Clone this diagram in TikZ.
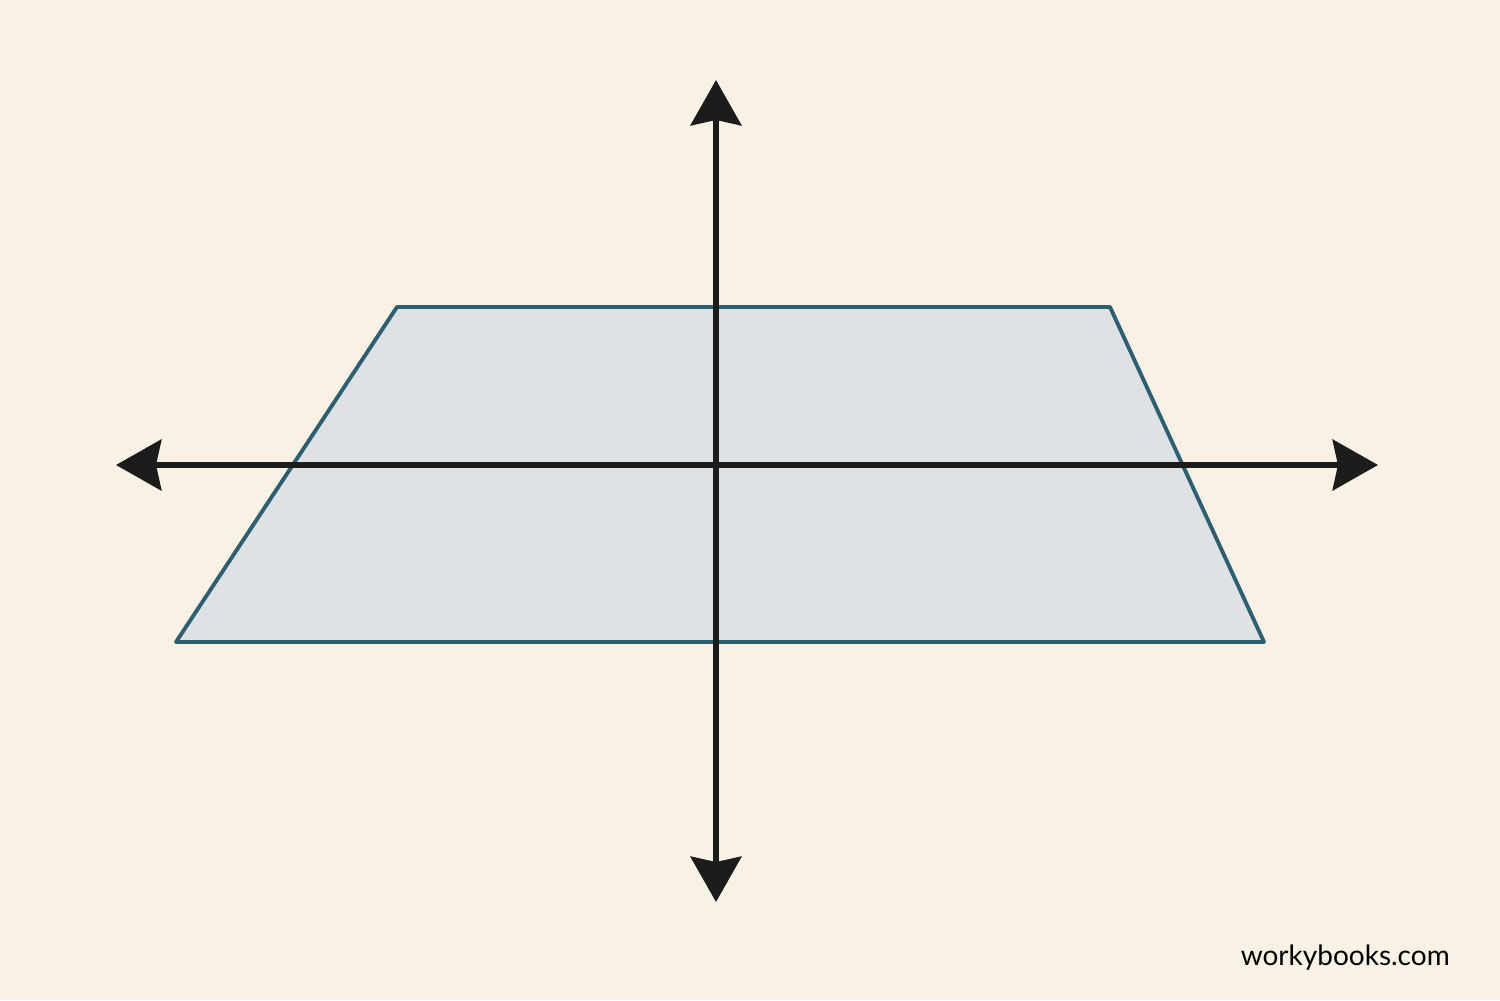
\documentclass[tikz,border=0pt]{standalone}
\usepackage{fontspec}
\usepackage{xcolor}
\usepackage{tikz}
\usetikzlibrary{arrows.meta}
\newfontfamily\wbfont{Lato}

\definecolor{bgcream}{HTML}{F8F1E4}
\definecolor{trapfill}{HTML}{DEE2E4}
\definecolor{trapline}{HTML}{2D5F72}
\definecolor{axisblack}{HTML}{1C1C1C}

\begin{document}
\begin{tikzpicture}[x=0.75pt,y=0.75pt,yscale=-1,xscale=1,
  axisline/.style={draw=axisblack,line width=4.5pt,
    {Stealth[length=34pt,width=38pt,inset=4pt]}-{Stealth[length=34pt,width=38pt,inset=4pt]}}]

\fill[bgcream] (0,0) rectangle (1500,1000);
\useasboundingbox (0,0) rectangle (1500,1000);

\draw[fill=trapfill,draw=trapline,line width=2.9pt,line join=round]  (397,307) -- (1110,307) -- (1264,642) -- (176,642) -- cycle ;

\coordinate (xleft) at (116,465);
\coordinate (xright) at (1378,465);
\coordinate (ytop) at (716,80);
\coordinate (ybottom) at (716,902);

\draw[axisline] (xleft) -- (xright) ;

\draw[axisline] (ytop) -- (ybottom) ;

\draw (1450,965) node [anchor=base east][inner sep=0pt] (brand) {\wbfont\fontsize{21}{25}\selectfont workybooks.com};

\end{tikzpicture}
\end{document}
